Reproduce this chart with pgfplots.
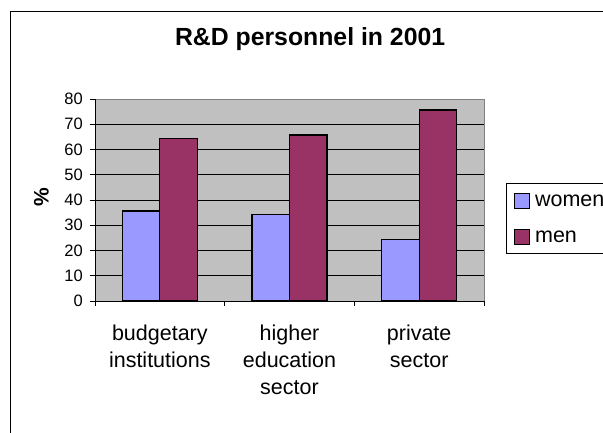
\documentclass[border=0pt]{standalone}
\usepackage{pgfplots}
\pgfplotsset{compat=1.18}
\usepackage{fontspec}
\setmainfont{Liberation Sans}
\definecolor{women}{HTML}{9999FF}
\definecolor{men}{HTML}{993366}
\definecolor{plotbg}{HTML}{C0C0C0}
\definecolor{border}{HTML}{808080}
\begin{document}
\begin{tikzpicture}[x=1pt,y=1pt]
\useasboundingbox (0,0) rectangle (603,432);
\clip (0,0) rectangle (603,432);
\fill[white] (0,0) rectangle (603,432);
\draw[black, line width=1.3pt] (10.7,-5) -- (10.7,420.3) -- (615,420.3);
\begin{axis}[
  at={(95pt,131pt)}, anchor=south west,
  scale only axis, width=389pt, height=202pt,
  xmin=-0.5, xmax=2.5, ymin=0, ymax=80,
  ybar=0pt, bar width=37.5pt,
  axis background/.style={fill=plotbg, draw=border, line width=1pt},
  axis lines=left,
  axis line style={-, black, line width=1pt},
  tick align=outside,
  major tick length=4.5pt,
  tick style={black, line width=1pt},
  ytick={0,10,...,80},
  /pgf/number format/assume math mode=true,
  yticklabel style={font=\fontsize{16.5}{16.5}\selectfont, inner sep=0pt, anchor=east, xshift=-7.5pt},
  xtick={-0.5,0.5,1.5,2.5}, xticklabels={},
  extra x ticks={0,1,2},
  extra x tick labels={{budgetary\\institutions},{higher\\education\\sector},{private\\sector}},
  extra x tick style={major tick length=0pt},
  xticklabel style={font=\fontsize{21.5}{26.7}\selectfont, align=center, anchor=north, inner sep=0pt, yshift=-24pt},
  extra y ticks={10,20,...,70}, extra y tick labels={},
  extra y tick style={grid=major, major grid style={black, line width=1pt}},
  title={R\&D personnel in 2001},
  title style={font=\bfseries\fontsize{24.8}{24.8}\selectfont, at={(axis description cs:0.553,1.234)}, anchor=base, inner sep=0pt},
  ylabel={\%},
  ylabel style={font=\bfseries\fontsize{21}{21}\selectfont, at={(axis description cs:-0.1375,0.515)}, anchor=center, inner sep=0pt},
  legend style={at={(axis description cs:1.0558,0.5824)}, anchor=north west, draw=black, fill=white, line width=1pt,
    font=\fontsize{21.5}{21.5}\selectfont, inner xsep=7.6pt, inner ysep=9pt, row sep=19.5pt,
    nodes={inner sep=0pt},
    /tikz/every odd column/.append style={column sep=5pt}},
  legend cell align=left,
]
\addplot[fill=women, draw=black, line width=1.3pt,
  legend image code/.code={\draw[fill=women, draw=black, line width=1.3pt] (0pt,-7.2pt) rectangle (15pt,7.8pt);}]
  coordinates {(0,35.6) (1,34.3) (2,24.4)};
\addplot[fill=men, draw=black, line width=1.3pt,
  legend image code/.code={\draw[fill=men, draw=black, line width=1.3pt] (0pt,-7.2pt) rectangle (15pt,7.8pt);}]
  coordinates {(0,64.4) (1,65.7) (2,75.6)};
\legend{women,men}
\end{axis}
\end{tikzpicture}
\end{document}
